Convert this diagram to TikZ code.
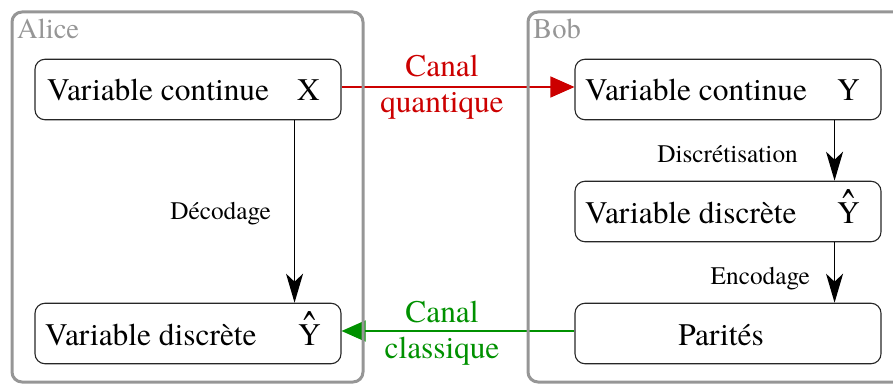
\documentclass[tikz,border=0pt]{standalone}
\usepackage{fontspec}
\setmainfont{texgyretermes-regular.otf}
\usetikzlibrary{arrows.meta,calc}
\definecolor{boxgray}{RGB}{150,150,150}
\definecolor{chanred}{RGB}{204,0,0}
\definecolor{changreen}{RGB}{0,145,0}
\newcommand{\hatY}{\makebox[0pt][l]{\hspace{5pt}\raisebox{-2pt}{\scalebox{1.2}[1.7]{\char"02C6}}}Y}
\begin{document}
\begin{tikzpicture}[x=1pt,y=-1pt,
 party/.style={draw=boxgray,line width=3pt,rounded corners=10pt},
 partylabel/.style={text=boxgray,font=\fontsize{28.6}{32}\selectfont,anchor=base west,inner sep=0},
 varbox/.style={draw=black!85,line width=1.1pt,rounded corners=10pt,minimum width=306pt,minimum height=60.5pt,inner sep=0},
 vartext/.style={font=\fontsize{31.4}{36}\selectfont,anchor=base west,inner sep=0},
 symtext/.style={font=\fontsize{31.4}{36}\selectfont,anchor=base east,inner sep=0},
 midtext/.style={font=\fontsize{31.4}{36}\selectfont,anchor=base,inner sep=0},
 steplabel/.style={font=\fontsize{25.3}{28}\selectfont,anchor=base east,inner sep=0},
 flow/.style={line width=1.3pt,-{Stealth[length=29pt,width=17pt,inset=8pt]}},
 chan/.style={line width=1.3pt,-{Triangle[length=24pt,width=21pt]}}
]
\useasboundingbox (0,0) rectangle (893,385);
\clip (0,0) rectangle (893,385);

\node[varbox] (ax) at (188,89.5) {};
\node[varbox] (ay) at (188,333.5) {};
\node[varbox] (by) at (728,89.5) {};
\node[varbox] (bd) at (728,211.5) {};
\node[varbox] (bp) at (728,333.5) {};

\node[vartext] (axt) at (47,101) {Variable continue};
\node[symtext] (axs) at (320,101) {X};
\node[vartext] (ayt) at (45,345) {Variable discrète};
\node[symtext] (ays) at (321,345) {\hatY};
\node[vartext] (byt) at (585,101) {Variable continue};
\node[symtext] (bys) at (860,101) {Y};
\node[vartext] (bdt) at (585,223) {Variable discrète};
\node[symtext] (bds) at (860,223) {\hatY};
\node[midtext] (bpt) at (721,345) {Parités};

\draw[flow] ([xshift=-47pt]ax.south east) -- ([xshift=-47pt]ay.north east);
\draw[flow] ([xshift=-47pt]by.south east) -- ([xshift=-47pt]bd.north east);
\draw[flow] ([xshift=-47pt]bd.south east) -- ([xshift=-47pt]bp.north east);

\node[steplabel] (dec) at (271,219) {Décodage};
\node[steplabel] (dis) at (798,162) {Discrétisation};
\node[steplabel] (enc) at (810,284) {Encodage};

\draw[chan,chanred] ([yshift=2.5pt]ax.east) -- ([yshift=2.5pt]by.west);
\draw[chan,changreen] ([yshift=2.5pt]bp.west) -- ([yshift=2.5pt]ay.east);

\node[midtext,text=chanred] (q1) at (442,77) {Canal};
\node[midtext,text=chanred] (q2) at (442,113) {quantique};
\node[midtext,text=changreen] (c1) at (442,322) {Canal};
\node[midtext,text=changreen] (c2) at (442,358) {classique};

\draw[party] (12,12) rectangle (363,382);
\draw[party] (528,12) rectangle (910,382);
\node[partylabel] (alice) at (17,39) {Alice};
\node[partylabel] (bob) at (533,39) {Bob};
\end{tikzpicture}
\end{document}
